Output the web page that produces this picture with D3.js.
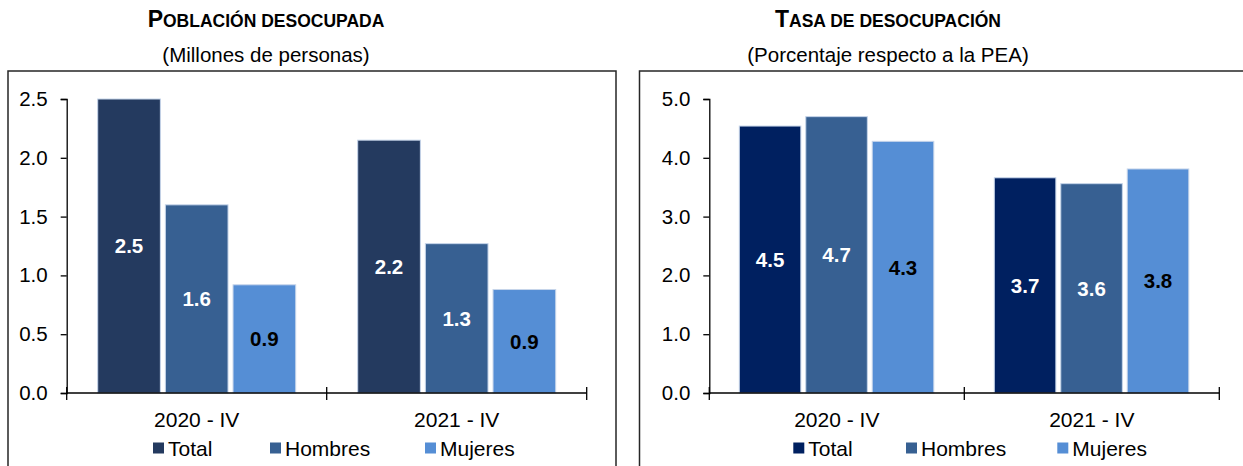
<!DOCTYPE html>
<html>
<head>
<meta charset="utf-8">
<script src="https://cdn.jsdelivr.net/npm/d3@7.9.0/dist/d3.min.js"></script>
<style>
  body { margin: 0; background: #fff; }
  svg { display: block; font-family: "Liberation Sans", Arial, sans-serif; }
</style>
</head>
<body>
<svg id="chart" width="1243" height="466"></svg>
<script>
// data
const periods = ['2020 - IV', '2021 - IV'];
const series = ['Total', 'Hombres', 'Mujeres'];
const poblacion = [[2.50, 2.15], [1.60, 1.27], [0.92, 0.88]];   // millones de personas
const poblacionLabels = [['2.5', '2.2'], ['1.6', '1.3'], ['0.9', '0.9']];
const tasa = [[4.54, 3.66], [4.70, 3.56], [4.28, 3.81]];         // % de la PEA
const tasaLabels = [['4.5', '3.7'], ['4.7', '3.6'], ['4.3', '3.8']];
const poblacionTicks = [0, 0.5, 1.0, 1.5, 2.0, 2.5];
const tasaTicks = [0, 1, 2, 3, 4, 5];

const svg = d3.select('#chart');

const panels = [
  {
    title: 'Población desocupada', sub: '(Millones de personas)',
    titleX: 266, box: [8, 71, 616, 480],
    x0: 66.7, x1: 586.7, yTop: 99, yBot: 393, max: 2.5,
    inner: [31, 229], gap: 0.074,
    values: poblacion, labels: poblacionLabels, ticks: poblacionTicks,
    colors: ['#243a5f', '#376092', '#558ed5'],
    legendX: [153, 270, 425]
  },
  {
    title: 'Tasa de desocupación', sub: '(Porcentaje respecto a la PEA)',
    titleX: 888, box: [639.5, 71, 1260, 480],
    x0: 709.3, x1: 1219.3, yTop: 99, yBot: 393, max: 5,
    inner: [30, 224.5], gap: 0.074,
    values: tasa, labels: tasaLabels, ticks: tasaTicks,
    colors: ['#002060', '#376092', '#558ed5'],
    legendX: [793.3, 906, 1057.3]
  }
];

panels.forEach(p => {
  const g = svg.append('g');

  // box
  g.append('rect')
    .attr('x', p.box[0]).attr('y', p.box[1])
    .attr('width', p.box[2] - p.box[0]).attr('height', p.box[3] - p.box[1])
    .attr('fill', 'none').attr('stroke', '#262626').attr('stroke-width', 1.5);

  // title in small caps
  const words = p.title.toUpperCase();
  const t = g.append('text')
    .attr('x', p.titleX).attr('y', 27)
    .attr('text-anchor', 'middle')
    .attr('font-weight', 'bold').attr('fill', '#000');
  t.append('tspan').attr('font-size', 23).text(words[0]);
  t.append('tspan').attr('font-size', 17.5).text(words.slice(1));

  g.append('text')
    .attr('x', p.titleX).attr('y', 62)
    .attr('text-anchor', 'middle')
    .attr('font-size', 20.5).attr('fill', '#000')
    .text(p.sub);

  const x = d3.scaleBand().domain(periods).range([p.x0, p.x1]);
  const xs = d3.scaleBand().domain(series).range(p.inner).paddingInner(p.gap);
  const y = d3.scaleLinear().domain([0, p.max]).range([p.yBot, p.yTop]);

  // bars
  series.forEach((s, si) => {
    periods.forEach((per, pi) => {
      const v = p.values[si][pi];
      const bx = x(per) + xs(s);
      g.append('rect')
        .attr('x', bx).attr('y', y(v))
        .attr('width', xs.bandwidth()).attr('height', y(0) - y(v))
        .attr('fill', p.colors[si])
        .attr('stroke', '#c6d5ea').attr('stroke-width', 1);
      g.append('text')
        .attr('x', bx + xs.bandwidth() / 2)
        .attr('y', (y(v) + y(0)) / 2)
        .attr('dy', '0.36em')
        .attr('text-anchor', 'middle')
        .attr('font-size', 20.5).attr('font-weight', 'bold')
        .attr('fill', si === 2 ? '#000' : '#fff')
        .text(p.labels[si][pi]);
    });
  });

  // y axis
  const yAxis = g.append('g')
    .attr('transform', `translate(${p.x0},0)`)
    .call(d3.axisLeft(y).tickValues(p.ticks).tickFormat(d3.format('.1f')).tickSize(6).tickPadding(13));
  yAxis.select('.domain').attr('stroke', '#000').attr('stroke-width', 1.3);
  yAxis.selectAll('.tick line').attr('stroke', '#000').attr('stroke-width', 1.3);
  yAxis.selectAll('.tick text')
    .attr('font-size', 20.5).attr('fill', '#000')
    .attr('font-family', '"Liberation Sans", Arial, sans-serif');

  // x axis
  g.append('line')
    .attr('x1', p.x0).attr('x2', p.x1).attr('y1', y(0)).attr('y2', y(0))
    .attr('stroke', '#000').attr('stroke-width', 1.3);
  const edges = [p.x0, ...periods.map(d => x(d) + x.bandwidth())];
  g.selectAll('.xtick').data(edges).join('line')
    .attr('x1', d => d).attr('x2', d => d)
    .attr('y1', y(0) - 6).attr('y2', y(0) + 7)
    .attr('stroke', '#000').attr('stroke-width', 1.3);
  g.selectAll('.xlab').data(periods).join('text')
    .attr('x', d => x(d) + x.bandwidth() / 2)
    .attr('y', 426.5)
    .attr('text-anchor', 'middle')
    .attr('font-size', 21).attr('fill', '#000')
    .text(d => d);

  // legend
  series.forEach((s, si) => {
    g.append('rect')
      .attr('x', p.legendX[si]).attr('y', 442.5)
      .attr('width', 11).attr('height', 11)
      .attr('fill', p.colors[si]);
    g.append('text')
      .attr('x', p.legendX[si] + 15).attr('y', 455.5)
      .attr('font-size', 21).attr('fill', '#000')
      .text(s);
  });
});
</script>
</body>
</html>
